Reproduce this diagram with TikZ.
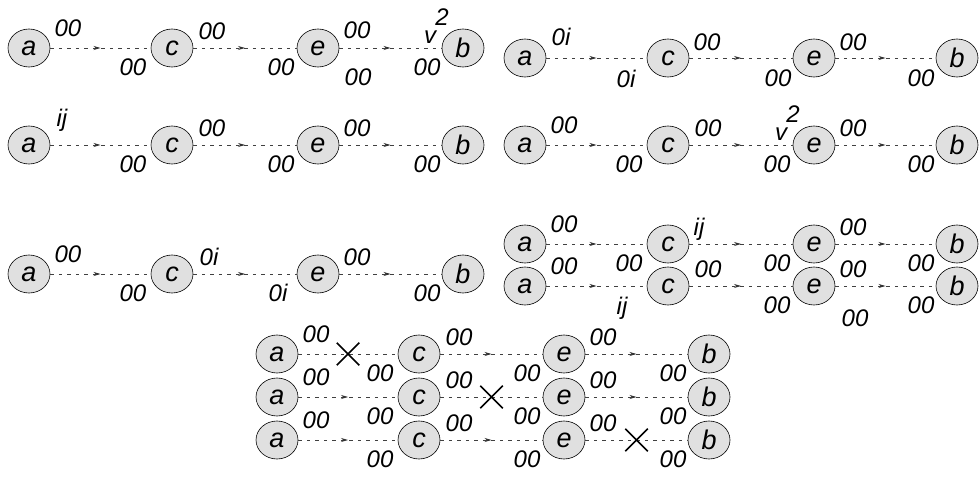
\documentclass[tikz,border=0pt]{standalone}
\usepackage{fontspec}
\setmainfont{Liberation Sans}
\usetikzlibrary{calc,shapes.geometric,shapes.misc,arrows.meta,decorations.markings}
\tikzset{
  nd/.style={ellipse, draw=black, line width=0.6pt, fill=black!12, minimum width=42pt, minimum height=38pt, inner sep=0pt, font=\fontsize{27}{27}\selectfont\itshape},
  lbl/.style={inner sep=0pt, font=\fontsize{24}{24}\selectfont\itshape},
  edg/.style={draw=black!75, line width=0.7pt, dash pattern=on 3.5pt off 5pt},
  midarr/.style={edg, postaction={decorate}, decoration={markings, mark=at position 0.5 with {\arrow[black!80, solid]{Stealth[length=7pt,width=4pt]}}}},
  xmark/.style={draw=black, solid, cross out, line width=1.5pt, minimum size=21pt, inner sep=0pt},
}
\newcommand\mkrow[6]{%
  \node[nd] (#1a) at (#2,#6) {a};
  \node[nd] (#1c) at (#3,#6) {c};
  \node[nd] (#1e) at (#4,#6) {e};
  \node[nd] (#1b) at (#5,#6) {b};}
\newcommand\lab[4]{\node[lbl] at ($(#1)+(#2,#3)$) {#4};}
\newcommand\vsq[1]{\node[lbl] at ($(#1)+(-33,-11)$) {v}; \node[lbl] at ($(#1)+(-21,-31)$) {2};}
\begin{document}
\begin{tikzpicture}[x=1pt,y=-1pt]
\useasboundingbox (0,0) rectangle (979,478);
% left group
\mkrow{La}{29}{172}{318}{463}{48}
\mkrow{Lb}{29}{172}{318}{463}{145}
\mkrow{Lc}{29}{172}{318}{463}{274}
% right group
\mkrow{Ra}{525}{668}{814}{957}{58}
\mkrow{Rb}{525}{668}{814}{957}{145}
\mkrow{Rc}{525}{668}{814}{957}{244}
\mkrow{Rd}{525}{668}{814}{957}{286}
% bottom group
\mkrow{Ba}{277}{419}{564}{709}{354}
\mkrow{Bb}{277}{419}{564}{709}{397}
\mkrow{Bc}{277}{419}{564}{709}{440}
% edges
\foreach \r in {La,Lb,Lc,Ra,Rb,Rc,Rd}{
  \draw[midarr] (\r a) -- (\r c);
  \draw[midarr] (\r c) -- (\r e);
  \draw[midarr] (\r e) -- (\r b);
}
\draw[edg] (Baa) -- node[xmark]{} (Bac);
\draw[midarr] (Bac) -- (Bae);
\draw[midarr] (Bae) -- (Bab);
\draw[midarr] (Bba) -- (Bbc);
\draw[edg] (Bbc) -- node[xmark]{} (Bbe);
\draw[midarr] (Bbe) -- (Bbb);
\draw[midarr] (Bca) -- (Bcc);
\draw[midarr] (Bcc) -- (Bce);
\draw[edg] (Bce) -- node[xmark]{} (Bcb);
% labels L1
\lab{Laa}{39}{-20}{00}
\lab{Lac}{-39}{19}{00}
\lab{Lac}{40}{-17}{00}
\lab{Lae}{-37}{19}{00}
\lab{Lae}{39}{-18}{00}
\lab{Lae}{40}{29}{00}
\vsq{Lab}
\lab{Lab}{-36}{19}{00}
% L2
\lab{Lba}{33}{-25}{ij}
\lab{Lbc}{-39}{19}{00}
\lab{Lbc}{40}{-17}{00}
\lab{Lbe}{-37}{19}{00}
\lab{Lbe}{39}{-17}{00}
\lab{Lbb}{-36}{19}{00}
% L3
\lab{Lca}{39}{-20}{00}
\lab{Lcc}{-39}{19}{00}
\lab{Lcc}{37}{-17}{0i}
\lab{Lce}{-40}{19}{0i}
\lab{Lce}{39}{-17}{00}
\lab{Lcb}{-36}{19}{00}
% R1
\lab{Raa}{36}{-21}{0i}
\lab{Rac}{-42}{21}{0i}
\lab{Rac}{39}{-16}{00}
\lab{Rae}{-36}{20}{00}
\lab{Rae}{39}{-16}{00}
\lab{Rab}{-36}{20}{00}
% R2
\lab{Rba}{39}{-20}{00}
\lab{Rbc}{-39}{19}{00}
\lab{Rbc}{40}{-17}{00}
\vsq{Rbe}
\lab{Rbe}{-37}{19}{00}
\lab{Rbe}{39}{-17}{00}
\lab{Rbb}{-36}{19}{00}
% R3
\lab{Rca}{39}{-20}{00}
\lab{Rcc}{-39}{19}{00}
\lab{Rcc}{31}{-15}{ij}
\lab{Rce}{-37}{19}{00}
\lab{Rce}{39}{-17}{00}
\lab{Rcb}{-36}{19}{00}
% R4
\lab{Rda}{39}{-20}{00}
\lab{Rdc}{-46}{22}{ij}
\lab{Rdc}{40}{-17}{00}
\lab{Rde}{-37}{19}{00}
\lab{Rde}{39}{-17}{00}
\lab{Rde}{41}{32}{00}
\lab{Rdb}{-36}{19}{00}
% bottom
\foreach \r in {Ba,Bb,Bc}{
  \lab{\r a}{39}{-20}{00}
  \lab{\r c}{-39}{19}{00}
  \lab{\r c}{40}{-17}{00}
  \lab{\r e}{-37}{19}{00}
  \lab{\r e}{39}{-17}{00}
  \lab{\r b}{-36}{19}{00}
}
\end{tikzpicture}
\end{document}
